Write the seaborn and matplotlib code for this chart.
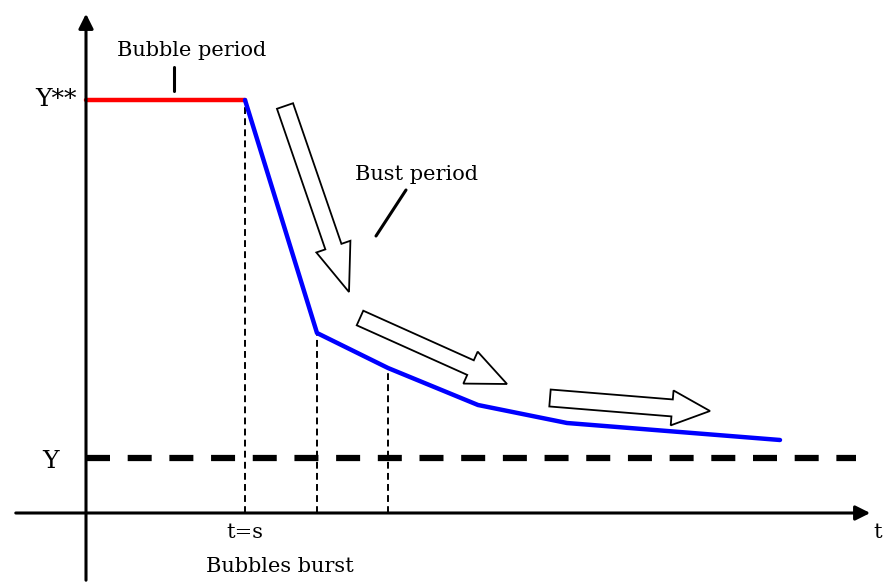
import numpy as np
import matplotlib
matplotlib.use("Agg")
import matplotlib.pyplot as plt
import seaborn as sns
from matplotlib.patches import FancyArrow

# ====================== DATA ======================
# schematic units: origin where the axes cross

bubble_t = [0, 159]
bubble_y = [413, 413]

bust_t = [159, 231, 302, 392, 481, 694]
bust_y = [413, 180, 145, 108, 90, 73]

steady_level = 55       # Y
peak_level   = 413      # Y**
drop_marks   = [159, 231, 302]   # vertical guides (t=s and two later points)

# ====================== PLOT ======================

sns.set_style("white")
plt.rcParams['font.family'] = ['DejaVu Serif']
plt.rcParams['text.color'] = 'black'

fig = plt.figure(figsize=(8.87, 5.88), dpi=100)
ax = fig.add_axes([0, 0, 1, 1])
ax.set_xlim(-86, 801)
ax.set_ylim(-75, 513)
ax.axis('off')

# axes with arrow heads
ax.annotate("", xy=(0, 502), xytext=(0, -70),
            arrowprops=dict(arrowstyle='-|>', lw=2.2, color='black', mutation_scale=22))
ax.annotate("", xy=(787, 0), xytext=(-73, 0),
            arrowprops=dict(arrowstyle='-|>', lw=2.2, color='black', mutation_scale=22))

# Y level (thick dashes)
ax.plot([0, 770], [steady_level, steady_level], color='black', lw=4.5,
        dashes=(3.84, 2.83), solid_capstyle='butt', dash_capstyle='butt')

# vertical guides
for t, y in zip(drop_marks, [peak_level, 180, 145]):
    ax.plot([t, t], [0, y], color='black', lw=1.4, dashes=(3.5, 2.2))

# bubble / bust paths
sns.lineplot(x=bubble_t, y=bubble_y, color='red', lw=3.2, ax=ax)
sns.lineplot(x=bust_t, y=bust_y, color='blue', lw=3.2, ax=ax, sort=False)

# hollow arrows
hollow = [((199, 407), (263, 221), 17, 36, 48),
          ((274, 195), (421, 129), 16, 35, 40),
          ((464, 115), (624, 102), 17, 35, 38)]
for (x0, y0), (x1, y1), w, hw, hl in hollow:
    ax.add_patch(FancyArrow(x0, y0, x1 - x0, y1 - y0, width=w, head_width=hw,
                            head_length=hl, length_includes_head=True,
                            fc='white', ec='black', lw=1.3))

# labels
fs = 15
ax.text(-9, peak_level, "Y**", ha='right', va='center', fontsize=18)
ax.text(-27, steady_level - 3, "Y", ha='right', va='center', fontsize=18)
ax.text(159, -20, "t=s", ha='center', va='center', fontsize=fs)
ax.text(194, -54, "Bubbles burst", ha='center', va='center', fontsize=fs)
ax.text(792, -20, "t", ha='center', va='center', fontsize=fs)
ax.text(106, 463, "Bubble period", ha='center', va='center', fontsize=fs)
ax.text(331, 339, "Bust period", ha='center', va='center', fontsize=fs)

# pointer ticks
ax.plot([88, 88], [422, 446], color='black', lw=2.2)
ax.plot([290, 320], [277, 323], color='black', lw=2.2)

fig.savefig("out.png", dpi=100)
